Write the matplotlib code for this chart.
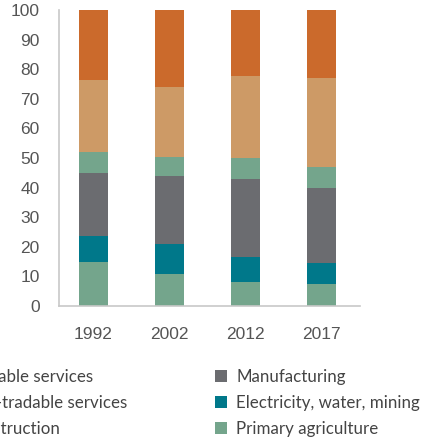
import matplotlib
matplotlib.use("Agg")
import matplotlib.pyplot as plt
from matplotlib.patches import Patch
import numpy as np

plt.rcParams.update({
    "font.family": ["Liberation Sans", "DejaVu Sans"],
    "font.size": 12,
})

years = ["1992", "2002", "2012", "2017"]
primary_agriculture = [14.9, 10.8, 8.1, 7.4]
electricity_water_mining = [8.7, 10.1, 8.5, 7.1]
manufacturing = [21.3, 23.0, 26.3, 25.4]
construction = [7.2, 6.5, 7.1, 7.1]
non_tradable_services = [24.3, 23.6, 27.7, 30.0]
tradable_services = [23.6, 26.0, 22.3, 23.0]

series = [
    ("Primary agriculture", primary_agriculture, "#74a58c"),
    ("Electricity, water, mining", electricity_water_mining, "#00788a"),
    ("Manufacturing", manufacturing, "#6b6c70"),
    ("Construction", construction, "#74a58c"),
    ("Non-tradable services", non_tradable_services, "#cd9a66"),
    ("Tradable services", tradable_services, "#cb6a2c"),
]

fig = plt.figure(figsize=(4.37, 4.45), dpi=100)
ax = fig.add_axes([0.135, 0.3124, 0.689, 0.6651])

x = np.arange(len(years))
bottom = np.zeros(len(years))
handles = {}
for name, vals, color in series:
    ax.bar(x, vals, 0.38, bottom=bottom, color=color, linewidth=0)
    bottom += np.array(vals)
    handles[name] = Patch(facecolor=color, edgecolor="none")

ax.set_xlim(-0.454, 3.507)
ax.set_ylim(0, 100)
ax.set_yticks(range(0, 101, 10))
ax.set_xticks(x)
ax.set_xticklabels(years)
ax.tick_params(axis="both", length=0, colors="#555555", labelsize=12.5)
ax.tick_params(axis="y", pad=14)
ax.tick_params(axis="x", pad=15)
for s in ["top", "right"]:
    ax.spines[s].set_visible(False)
for s in ["left", "bottom"]:
    ax.spines[s].set_color("#c8c8c8")
    ax.spines[s].set_linewidth(1.2)

common = dict(frameon=False, prop={"family": ["Lato", "DejaVu Sans"], "size": 12.2},
              handlelength=0.71, handleheight=0.71,
              handletextpad=0.55, labelspacing=0.58, borderpad=0, borderaxespad=0,
              labelcolor="#444444")

left_names = ["Tradable services", "Non-tradable services", "Construction"]
right_names = ["Manufacturing", "Electricity, water, mining", "Primary agriculture"]

leg1 = fig.legend([handles[n] for n in right_names], right_names,
                  loc="upper left", bbox_to_anchor=(215 / 437, 1 - 369 / 445), **common)
leg2 = fig.legend([handles[n] for n in left_names], left_names,
                  loc="upper right", bbox_to_anchor=(127 / 437, 1 - 369 / 445), **common)

fig.savefig("out.png", dpi=100)
